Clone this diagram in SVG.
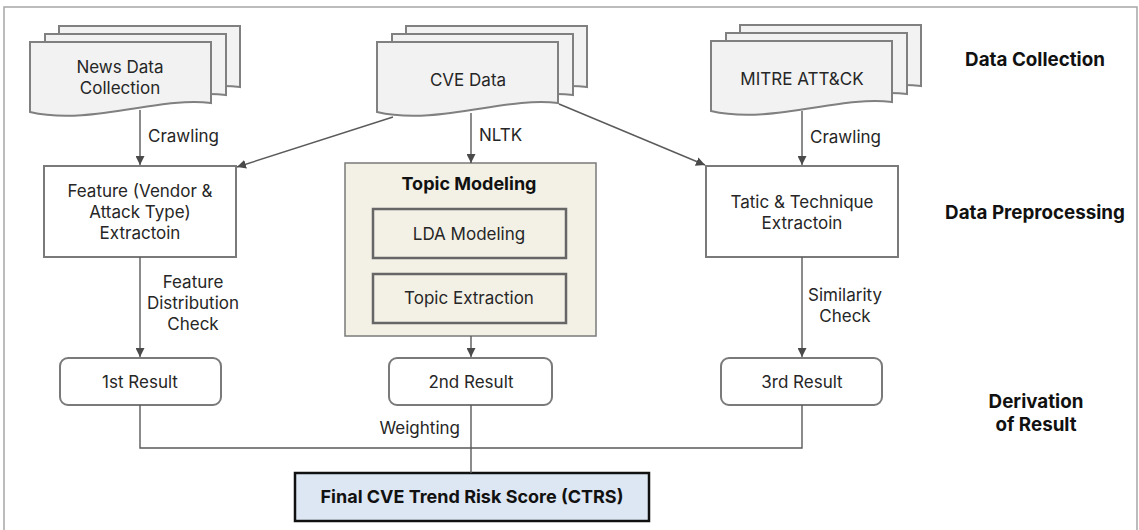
<svg xmlns="http://www.w3.org/2000/svg" width="1139" height="530" viewBox="0 0 1139 530">
<defs>
<style>
.t{font-family:Inter,"Open Sans","Liberation Sans",sans-serif;font-size:17px;fill:#262626;text-anchor:middle}
.b{font-family:Inter,"Open Sans","Liberation Sans",sans-serif;font-size:18px;font-weight:bold;fill:#111;text-anchor:middle}
.s{font-size:18.8px}
.st{text-anchor:start}
.doc{fill:#f2f2f2;stroke:#808080;stroke-width:2}
.box{fill:#fff;stroke:#7a7a7a;stroke-width:2}
.in{fill:#f3f1e6;stroke:#666;stroke-width:2.5}
.c{fill:none;stroke:#5a5a5a;stroke-width:1.4}
.a{fill:none;stroke:#5a5a5a;stroke-width:1.4;marker-end:url(#ah)}
</style>
<marker id="ah" viewBox="0 0 10 10" refX="10" refY="5" markerWidth="9" markerHeight="9" markerUnits="userSpaceOnUse" orient="auto">
<path d="M0,0 L10,5 L0,10 Z" fill="#4a4a4a"/>
</marker>
<path id="docshape" d="M0,0 H181 V61 C130,54 60,84 0,70 Z"/>
</defs>
<rect x="4" y="7" width="1133" height="540" fill="#fff" stroke="#a6a6a6" stroke-width="1.5"/>

<g id="news">
<use href="#docshape" class="doc" x="59" y="26"/>
<use href="#docshape" class="doc" x="45" y="34"/>
<use href="#docshape" class="doc" x="30" y="42"/>
<text class="t" x="120" y="73">News Data</text>
<text class="t" x="120" y="94">Collection</text>
</g>
<g id="cve">
<use href="#docshape" class="doc" x="406" y="26"/>
<use href="#docshape" class="doc" x="392" y="34"/>
<use href="#docshape" class="doc" x="377" y="42"/>
<text class="t" x="468" y="86">CVE Data</text>
</g>
<g id="mitre">
<use href="#docshape" class="doc" x="740" y="25"/>
<use href="#docshape" class="doc" x="726" y="33"/>
<use href="#docshape" class="doc" x="711" y="41"/>
<text class="t" x="802" y="85">MITRE ATT&amp;CK</text>
</g>

<g id="feature">
<rect class="box" x="44" y="166" width="192" height="91"/>
<text class="t" x="140" y="197">Feature (Vendor &amp;</text>
<text class="t" x="140" y="218">Attack Type)</text>
<text class="t" x="140" y="239">Extractoin</text>
</g>
<g id="topic">
<rect x="345" y="163" width="251" height="173" fill="#f3f1e6" stroke="#7a7a7a" stroke-width="1.5"/>
<text class="b" x="469" y="190">Topic Modeling</text>
<rect class="in" x="373" y="209" width="193" height="49"/>
<text class="t" x="469" y="240">LDA Modeling</text>
<rect class="in" x="373" y="274" width="193" height="49"/>
<text class="t" x="469" y="304">Topic Extraction</text>
</g>
<g id="tatic">
<rect class="box" x="706" y="166" width="192" height="91"/>
<text class="t" x="802" y="208">Tatic &amp; Technique</text>
<text class="t" x="802" y="229">Extractoin</text>
</g>

<g id="r1">
<rect class="box" x="60" y="358" width="161" height="47" rx="8"/>
<text class="t" x="140" y="388">1st Result</text>
</g>
<g id="r2">
<rect class="box" x="389" y="358" width="163" height="47" rx="8"/>
<text class="t" x="471" y="388">2nd Result</text>
</g>
<g id="r3">
<rect class="box" x="721" y="358" width="161" height="47" rx="8"/>
<text class="t" x="802" y="388">3rd Result</text>
</g>

<g id="final">
<rect x="295" y="473" width="354" height="48" fill="#dde7f3" stroke="#111" stroke-width="2.5"/>
<text class="b" x="472" y="503">Final CVE Trend Risk Score (CTRS)</text>
</g>

<g id="stages">
<text class="b s" x="1035" y="66">Data Collection</text>
<text class="b s" x="1035" y="219">Data Preprocessing</text>
<text class="b s" x="1036" y="408">Derivation</text>
<text class="b s" x="1036" y="431">of Result</text>
</g>

<g id="connectors">
<path class="a" d="M140,110 V165"/>
<path class="a" d="M393,117 L237,167"/>
<path class="a" d="M471,113 V163"/>
<path class="a" d="M559,104 L705,165"/>
<path class="a" d="M802,111 V165"/>
<path class="a" d="M140,257 V357"/>
<path class="a" d="M471,336 V357"/>
<path class="a" d="M802,257 V357"/>
<path class="c" d="M140,405 V448 H802 V405"/>
<path class="c" d="M471,405 V473"/>
<text class="t st" x="148" y="142">Crawling</text>
<text class="t st" x="479" y="141">NLTK</text>
<text class="t st" x="810" y="143">Crawling</text>
<text class="t" x="193" y="288">Feature</text>
<text class="t" x="193" y="309">Distribution</text>
<text class="t" x="193" y="330">Check</text>
<text class="t" x="845" y="301">Similarity</text>
<text class="t" x="845" y="322">Check</text>
<text class="t" x="460" y="434" style="text-anchor:end">Weighting</text>
</g>
</svg>
